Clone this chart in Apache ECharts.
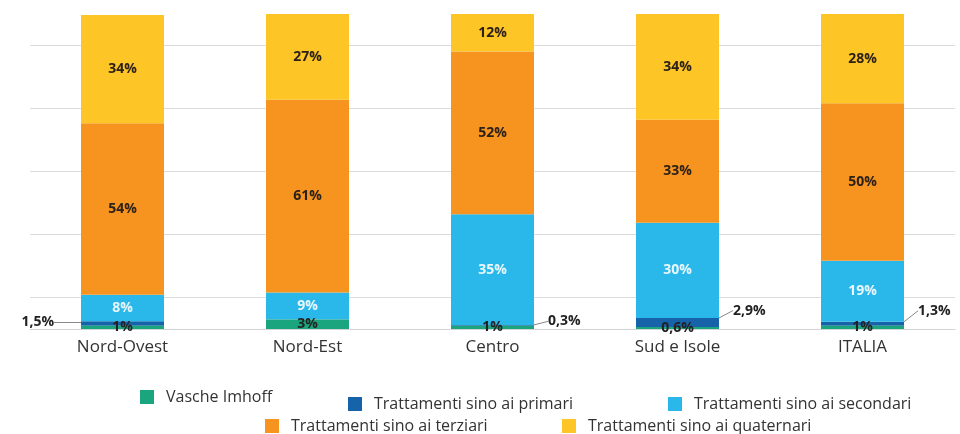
<!DOCTYPE html>
<html>
<head>
<meta charset="utf-8">
<script src="https://cdn.jsdelivr.net/npm/echarts@6/dist/echarts.min.js"></script>
<style>
  html, body { margin: 0; padding: 0; background: #fff; }
  #chart { width: 960px; height: 434px; }
</style>
</head>
<body>
<div id="chart"></div>
<script>
// categorie e quote (%)
const categories = ['Nord-Ovest', 'Nord-Est', 'Centro', 'Sud e Isole', 'ITALIA'];
const vascheImhoff = [1, 3, 1, 0.6, 1];
const primari = [1.5, 0, 0.3, 2.9, 1.3];
const secondari = [8.4, 8.6, 35.1, 30.2, 19.4];
const terziari = [54.4, 61.2, 51.7, 32.7, 50.0];
const quaternari = [34.4, 27.2, 11.9, 33.6, 28.3];

const FONT = 'Open Sans';
const colors = {
    imhoff: '#1ba57f',
    primari: '#1763a9',
    secondari: '#2ab8ea',
    terziari: '#f7941f',
    quaternari: '#fdc526'
};

function pct(v) {
    return (Number.isInteger(v) ? v : v.toFixed(1).replace('.', ',')) + '%';
}

function mainLabel(color) {
    return {
        show: true,
        position: 'inside',
        fontFamily: FONT,
        fontSize: 14,
        fontWeight: 'bold',
        color: color,
        formatter: (p) => Math.round(p.value) + '%'
    };
}

// spostamento verticale delle etichette esterne
const primariDy = [-1, 0, -4, -12, -13];

const chart = echarts.init(document.getElementById('chart'));

const legendNames = [
    ['Vasche Imhoff', 140, 389],
    ['Trattamenti sino ai primari', 348, 396],
    ['Trattamenti sino ai secondari', 668, 396],
    ['Trattamenti sino ai terziari', 265, 418],
    ['Trattamenti sino ai quaternari', 562, 418]
];

chart.setOption({
    animation: false,
    backgroundColor: '#fff',
    legend: legendNames.map(([name, left, top]) => ({
        data: [name],
        left: left,
        top: top,
        padding: 0,
        itemWidth: 14,
        itemHeight: 14,
        icon: 'rect',
        textStyle: { fontFamily: FONT, fontSize: 16, color: '#333', padding: [0, 0, 0, 7] }
    })),
    grid: { left: 30, right: 5, top: 14, bottom: 73.5 },
    xAxis: {
        type: 'category',
        data: categories,
        axisLine: { onZero: true, lineStyle: { color: '#d4d4d4' } },
        axisTick: { show: false },
        axisLabel: { fontFamily: FONT, fontSize: 17, color: '#333', margin: -22 }
    },
    yAxis: {
        type: 'value',
        min: -10,
        max: 100,
        interval: 20,
        axisLabel: { show: false },
        axisLine: { show: false },
        axisTick: { show: false },
        splitLine: {
            show: true,
            showMinLine: false,
            showMaxLine: false,
            lineStyle: { color: '#dcdcdc', width: 1 }
        }
    },
    series: [
        {
            name: 'Vasche Imhoff',
            type: 'bar',
            stack: 'tot',
            barWidth: 83,
            data: vascheImhoff,
            itemStyle: { color: colors.imhoff },
            label: {
                show: true,
                position: 'inside',
                fontFamily: FONT,
                fontSize: 14,
                fontWeight: 'bold',
                color: '#222',
                formatter: (p) => pct(p.value)
            },
            z: 3
        },
        {
            name: 'Trattamenti sino ai primari',
            type: 'bar',
            stack: 'tot',
            data: primari.map((v, i) => ({
                value: v,
                label: { show: v > 0, position: i === 0 ? 'left' : 'right', distance: i === 0 ? 27 : 14 }
            })),
            itemStyle: { color: colors.primari },
            label: {
                fontFamily: FONT,
                fontSize: 14,
                fontWeight: 'bold',
                color: '#222',
                formatter: (p) => pct(p.value)
            },
            labelLine: { show: true, lineStyle: { color: '#888', width: 1 } },
            labelLayout: (p) => ({ dy: primariDy[p.dataIndex] }),
            z: 2
        },
        {
            name: 'Trattamenti sino ai secondari',
            type: 'bar',
            stack: 'tot',
            data: secondari,
            itemStyle: { color: colors.secondari },
            label: mainLabel('#e9f7fd')
        },
        {
            name: 'Trattamenti sino ai terziari',
            type: 'bar',
            stack: 'tot',
            data: terziari,
            itemStyle: { color: colors.terziari },
            label: mainLabel('#2b2118')
        },
        {
            name: 'Trattamenti sino ai quaternari',
            type: 'bar',
            stack: 'tot',
            data: quaternari,
            itemStyle: { color: colors.quaternari },
            label: mainLabel('#2b2118')
        }
    ]
});
</script>
</body>
</html>
